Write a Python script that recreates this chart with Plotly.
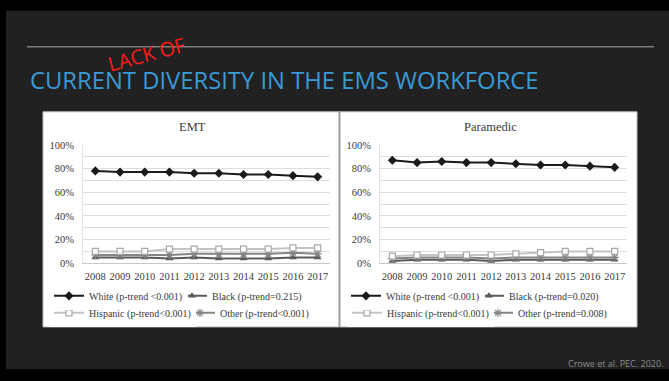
import plotly.graph_objects as go

# ---- data -------------------------------------------------------------
years = ["2008", "2009", "2010", "2011", "2012", "2013", "2014", "2015", "2016", "2017"]

emt_white = [78, 77, 77, 77, 76, 76, 75, 75, 74, 73]
emt_black = [5, 5, 5, 4, 5, 4, 4, 4, 5, 5]
emt_hispanic = [10, 10, 10, 12, 12, 12, 12, 12, 13, 13]
emt_other = [7, 7, 7, 7, 8, 8, 8, 8, 9, 8]

medic_white = [87, 85, 86, 85, 85, 84, 83, 83, 82, 81]
medic_black = [2, 3, 3, 3, 2, 3, 3, 3, 3, 3]
medic_hispanic = [6, 7, 7, 7, 7, 8, 9, 10, 10, 10]
medic_other = [4, 5, 5, 5, 4, 5, 5, 5, 5, 5]

emt_labels = {"White": "White (p-trend <0.001)", "Black": "Black (p-trend=0.215)",
              "Hispanic": "Hispanic (p-trend<0.001)", "Other": "Other (p-trend<0.001)"}
medic_labels = {"White": "White (p-trend <0.001)", "Black": "Black (p-trend=0.020)",
                "Hispanic": "Hispanic (p-trend<0.001)", "Other": "Other (p-trend=0.008)"}

y_tickvals = [0, 10, 20, 30, 40, 50, 60, 70, 80, 90, 100]
y_ticktext = ["0%", "", "20%", "", "40%", "", "60%", "", "80%", "", "100%"]

panel_titles = ["EMT", "Paramedic"]
slide_title = "CURRENT DIVERSITY IN THE EMS WORKFORCE"
overlay_text = "LACK OF"
citation = "Crowe et al. PEC. 2020."

# ---- layout helpers (pixel -> paper) ----------------------------------
W, H = 669, 381


def X(px):
    return px / W


def Y(py):
    return 1 - py / H


SERIF = "Liberation Serif, Times New Roman, serif"
SANS = "Open Sans, Noto Sans, sans-serif"
TXT = "#3a3a3a"

styles = {
    "White": dict(line=dict(color="#1a1a1a", width=2),
                  marker=dict(symbol="diamond", size=7, color="#1a1a1a")),
    "Black": dict(line=dict(color="#5a5a5a", width=2),
                  marker=dict(symbol="triangle-up", size=7, color="#5a5a5a")),
    "Hispanic": dict(line=dict(color="#c4c4c4", width=2),
                     marker=dict(symbol="square", size=6, color="white",
                                 line=dict(color="#a8a8a8", width=1.2))),
    "Other": dict(line=dict(color="#858585", width=2),
                  marker=dict(symbol="asterisk-open", size=7,
                              line=dict(color="#707070", width=1.2))),
}

panels = {
    "emt": (dict(White=emt_white, Black=emt_black, Hispanic=emt_hispanic, Other=emt_other),
            emt_labels, "x", "y"),
    "medic": (dict(White=medic_white, Black=medic_black, Hispanic=medic_hispanic,
                   Other=medic_other), medic_labels, "x2", "y2"),
}

# Every series has its own one-entry legend so the keys form two rows of
# two under each chart.  Legends are stacked in creation order, so the
# right-hand keys come first and the white-filled left-hand boxes last;
# those boxes trim the long key lines that run into the left-hand text.
# (series, panel): (text x px, row centre y px, white fill)
ROW1, ROW2 = 299.5, 317
legend_spots = {
    ("Black", "emt"): (212, ROW1, False),
    ("Black", "medic"): (509, ROW1, False),
    ("Other", "emt"): (220, ROW2, False),
    ("Other", "medic"): (518, ROW2, False),
    ("Hispanic", "emt"): (89, ROW2, True),
    ("Hispanic", "medic"): (387, ROW2, True),
    ("White", "emt"): (89, ROW1, True),
    ("White", "medic"): (386, ROW1, True),
}

fig = go.Figure()
legend_ids = {}
for n, (series_key, panel_key) in enumerate(legend_spots):
    lg = "legend" if n == 0 else f"legend{n + 1}"
    legend_ids[(series_key, panel_key)] = lg
    series, labels, xa, ya = panels[panel_key]
    fig.add_trace(go.Scatter(
        x=years, y=series[series_key], name=labels[series_key],
        mode="lines+markers", xaxis=xa, yaxis=ya, legend=lg,
        cliponaxis=False, hoverinfo="skip", **styles[series_key]))

axis_common_x = dict(
    type="category", range=[-0.5, 9.5], showgrid=False, zeroline=False,
    showline=True, linecolor="#c8c8c8", linewidth=1, ticks="",
    tickfont=dict(family=SERIF, size=10.5, color=TXT), ticklabelstandoff=3,
)
axis_common_y = dict(
    range=[0, 100], tickvals=y_tickvals, ticktext=y_ticktext,
    showgrid=True, gridcolor="#dedede", gridwidth=1, zeroline=False,
    showline=True, linecolor="#e4e4e4", ticks="",
    tickfont=dict(family=SERIF, size=10.5, color=TXT), ticklabelstandoff=6,
)

fig.update_layout(
    width=W, height=H, autosize=False,
    margin=dict(l=0, r=0, t=0, b=0),
    paper_bgcolor="#000000", plot_bgcolor="white",
    showlegend=True,
    xaxis=dict(domain=[X(83), X(330)], anchor="y", **axis_common_x),
    yaxis=dict(domain=[Y(266), Y(144)], anchor="x", **axis_common_y),
    xaxis2=dict(domain=[X(380), X(627)], anchor="y2", **axis_common_x),
    yaxis2=dict(domain=[Y(266), Y(144)], anchor="x2", **axis_common_y),
)

for spot, (tx, ty, filled) in legend_spots.items():
    fig.update_layout({legend_ids[spot]: dict(
        x=X(tx - 40), y=Y(ty), xanchor="left", yanchor="middle",
        bgcolor="white" if filled else "rgba(0,0,0,0)", borderwidth=0, itemwidth=30,
        font=dict(family=SERIF, size=10, color=TXT),
        itemclick=False, itemdoubleclick=False,
    )})

PANEL_TOP, PANEL_BOTTOM = 110, 331.5
shapes = [
    # slide background
    dict(type="rect", xref="paper", yref="paper", x0=X(6), x1=X(669),
         y0=Y(375), y1=Y(6), fillcolor="#212121", line=dict(width=0), layer="below"),
    # header rule
    dict(type="line", xref="paper", yref="paper", x0=X(27), x1=X(654),
         y0=Y(43), y1=Y(43), line=dict(color="#7c7c7c", width=1.5), layer="below"),
    # white chart panel
    dict(type="rect", xref="paper", yref="paper", x0=X(43), x1=X(637),
         y0=Y(PANEL_BOTTOM), y1=Y(PANEL_TOP), fillcolor="white",
         line=dict(color="#bdbdbd", width=1), layer="below"),
    # divider between the two charts
    dict(type="line", xref="paper", yref="paper", x0=X(339.5), x1=X(339.5),
         y0=Y(PANEL_BOTTOM), y1=Y(PANEL_TOP), line=dict(color="#9c9c9c", width=2),
         layer="below"),
]
fig.update_layout(shapes=shapes)

annotations = [
    dict(text=slide_title, x=X(28), y=Y(77), xanchor="left", yanchor="middle",
         font=dict(family=SANS, size=23.8, color="#3a9ad6")),
    dict(text=overlay_text, x=X(146), y=Y(51), xanchor="center", yanchor="middle",
         textangle=-15, font=dict(family=SANS, size=20, color="#ff1a1a")),
    dict(text=panel_titles[0], x=X(192), y=Y(126), xanchor="center", yanchor="middle",
         font=dict(family=SERIF, size=12.5, color=TXT)),
    dict(text=panel_titles[1], x=X(490), y=Y(126), xanchor="center", yanchor="middle",
         font=dict(family=SERIF, size=12.5, color=TXT)),
    dict(text=citation, x=X(665), y=Y(369), xanchor="right", yanchor="middle",
         font=dict(family=SANS, size=9, color="#8a8a8a")),
]
for a in annotations:
    a.update(xref="paper", yref="paper", showarrow=False)
fig.update_layout(annotations=annotations)

fig.write_html("out.html", config={"displayModeBar": False})
